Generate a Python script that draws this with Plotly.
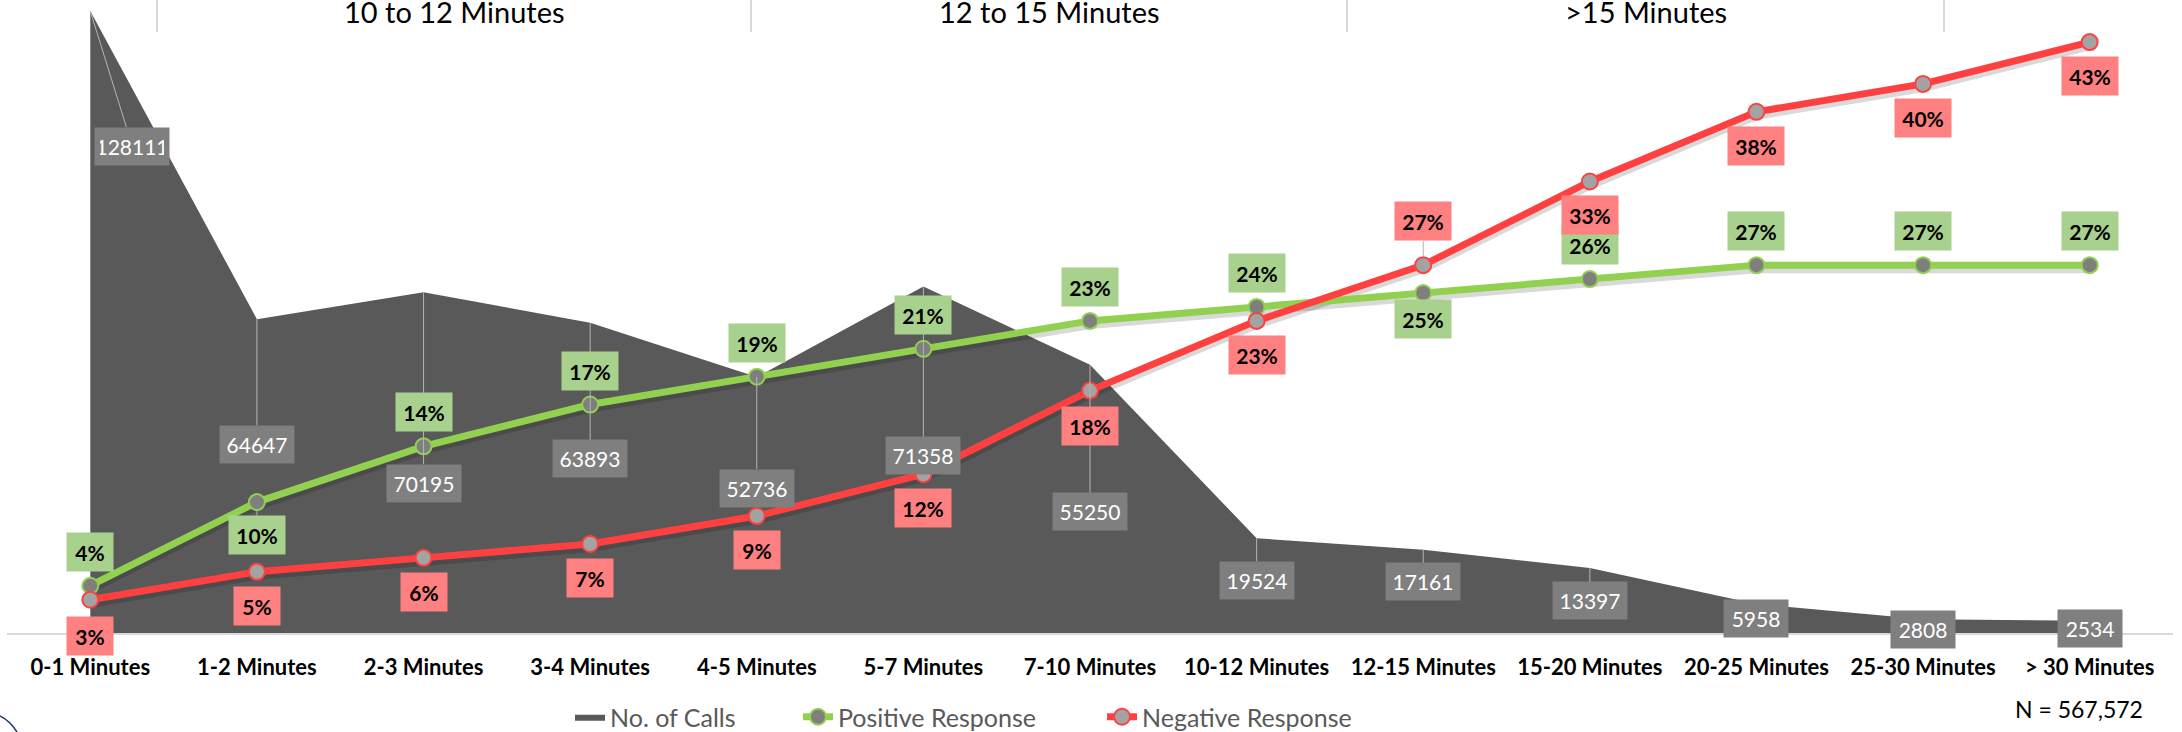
import plotly.graph_objects as go

# ---- data -------------------------------------------------------------
categories = ["0-1 Minutes", "1-2 Minutes", "2-3 Minutes", "3-4 Minutes", "4-5 Minutes",
              "5-7 Minutes", "7-10 Minutes", "10-12 Minutes", "12-15 Minutes",
              "15-20 Minutes", "20-25 Minutes", "25-30 Minutes", "> 30 Minutes"]
calls = [128111, 64647, 70195, 63893, 52736, 71358, 55250, 19524, 17161, 13397, 5958, 2808, 2534]
positive_pct = [4, 10, 14, 17, 19, 21, 23, 24, 25, 26, 27, 27, 27]
negative_pct = [3, 5, 6, 7, 9, 12, 18, 23, 27, 33, 38, 40, 43]
section_labels = ["10 to 12 Minutes", "12 to 15 Minutes", ">15 Minutes"]

# ---- label placement (pixel offsets from each point) -----------------
calls_label_dx = [42, 0, 0, 0, 0, 0, 0, 0, 0, 0, 0, 0, 0]
calls_label_dy = [135, 125, 191, 136, 111, 169, 147, 42, 32, 33, 14, 10, 8]
pos_label_dy = [-34, 33, -34, -34, -34, -34, -34, -34, 26, -34, -34, -34, -34]
neg_label_dy = [36, 34, 34, 34, 34, 34, 35, 34, -44, 34, 34, 34, 34]
pos_leader = [False, True] + [False] * 11
neg_leader = [False] * 8 + [True] + [False] * 4

# ---- geometry / style ---------------------------------------------------
W, H = 2182, 732
M_L, M_R, M_T, M_B = 7, 9, 0, 99
PLOT_W, PLOT_H = W - M_L - M_R, H - M_T - M_B
section_edges_px = [157, 751, 1347, 1944]
legend_text_px = [615, 843, 1147]   # where each legend entry's text begins

FONT = "Lato"
AREA = "#595959"
GREEN = "#92d050"
RED = "#ff4040"
GREEN_BOX = "#a9d18e"
RED_BOX = "#ff8080"
GREY_BOX = "#7f7f7f"
LEADER = "#b4b4b4"


def paper_x(px):
    return (px - M_L) / PLOT_W


def paper_y(py):
    return (M_T + PLOT_H - py) / PLOT_H


pos = [v / 100 for v in positive_pct]
neg = [v / 100 for v in negative_pct]
shadow_drop = 0.0022  # soft drop shadow under the response lines

fig = go.Figure()

fig.add_trace(go.Scatter(
    x=categories, y=calls, name="No. of Calls", mode="lines",
    line=dict(width=0, color=AREA), fill="tozeroy", fillcolor=AREA,
    yaxis="y", hoverinfo="skip", legend="legend"))

for vals in (pos, neg):
    fig.add_trace(go.Scatter(
        x=categories, y=[v - shadow_drop for v in vals], mode="lines",
        line=dict(width=10, color="rgba(0,0,0,0.15)"), yaxis="y2",
        showlegend=False, hoverinfo="skip"))

fig.add_trace(go.Scatter(
    x=categories, y=pos, name="Positive Response", mode="lines+markers",
    line=dict(width=7, color=GREEN),
    marker=dict(size=16, color="#7f7f7f", line=dict(width=2, color=GREEN)),
    yaxis="y2", legend="legend2"))
fig.add_trace(go.Scatter(
    x=categories, y=neg, name="Negative Response", mode="lines+markers",
    line=dict(width=7, color=RED),
    marker=dict(size=16, color="#a3a3a3", line=dict(width=2, color=RED)),
    yaxis="y2", legend="legend3"))

annotations = []

# call-volume labels with leader lines
for c, v, dx, dy in zip(categories, calls, calls_label_dx, calls_label_dy):
    annotations.append(dict(
        x=c, y=v, xref="x", yref="y", text=str(v),
        showarrow=True, arrowhead=0, arrowwidth=1, arrowcolor=LEADER,
        ax=dx, ay=dy, axref="pixel", ayref="pixel",
        bgcolor=GREY_BOX, borderpad=5, width=64 if v >= 10000 else 54, height=27,
        font=dict(family=FONT, size=21, color="white")))

# response percentage labels
for vals, raw, dys, leaders, box in ((pos, positive_pct, pos_label_dy, pos_leader, GREEN_BOX),
                                     (neg, negative_pct, neg_label_dy, neg_leader, RED_BOX)):
    for c, v, r, dy, lead in zip(categories, vals, raw, dys, leaders):
        annotations.append(dict(
            x=c, y=v, xref="x", yref="y2", text=f"{r}%",
            showarrow=True, arrowhead=0, arrowwidth=1,
            arrowcolor=LEADER if lead else "rgba(0,0,0,0)", standoff=9,
            ax=0, ay=dy, axref="pixel", ayref="pixel",
            bgcolor=box, borderpad=5, width=46 if r >= 10 else 36, height=28,
            font=dict(family=FONT, size=21, color="black", weight="bold")))

# section header across the top
for i, lab in enumerate(section_labels):
    mid = (section_edges_px[i] + section_edges_px[i + 1]) / 2
    annotations.append(dict(
        x=paper_x(mid), y=paper_y(-8), xref="paper", yref="paper",
        text=lab, showarrow=False, xanchor="center", yanchor="top",
        font=dict(family=FONT, size=29, color="black")))

annotations.append(dict(
    x=paper_x(2079), y=paper_y(709), xref="paper", yref="paper",
    text=f"N = {sum(calls):,}", showarrow=False, xanchor="center", yanchor="middle",
    font=dict(family=FONT, size=23, color="black")))

shapes = [dict(type="line", xref="paper", yref="paper",
               x0=paper_x(e), x1=paper_x(e), y0=paper_y(0), y1=paper_y(32),
               line=dict(color="#d9d9d9", width=2))
          for e in section_edges_px]
shapes.append(dict(
    type="path", xref="paper", yref="paper",
    path=f"M {paper_x(0)},{paper_y(716)} Q {paper_x(10)},{paper_y(721)} {paper_x(17)},{paper_y(732)}",
    line=dict(color="#1f3864", width=1.5)))

legend_style = dict(font=dict(family=FONT, size=25, color="#595959"),
                    bgcolor="rgba(0,0,0,0)", xanchor="left", yanchor="middle",
                    y=paper_y(717), orientation="h")

fig.update_layout(
    width=W, height=H,
    margin=dict(l=M_L, r=M_R, t=M_T, b=M_B, pad=0, autoexpand=False),
    paper_bgcolor="white", plot_bgcolor="white",
    font=dict(family=FONT),
    showlegend=True,
    legend=dict(x=paper_x(legend_text_px[0] - 45), **legend_style),
    legend2=dict(x=paper_x(legend_text_px[1] - 45), **legend_style),
    legend3=dict(x=paper_x(legend_text_px[2] - 45), **legend_style),
    xaxis=dict(type="category", range=[-0.5, 12.5], showgrid=False, zeroline=False,
               showline=True, linecolor="#d9d9d9", linewidth=2, ticks="",
               ticklabelstandoff=14, automargin=False,
               tickfont=dict(family=FONT, size=22, color="black", weight="bold")),
    yaxis=dict(range=[0, 130400], visible=False, showgrid=False, zeroline=False),
    yaxis2=dict(range=[0.0061, 0.4602], overlaying="y", side="right",
                visible=False, showgrid=False, zeroline=False),
    annotations=annotations,
    shapes=shapes,
    hovermode=False,
)

fig.write_html("out.html")
